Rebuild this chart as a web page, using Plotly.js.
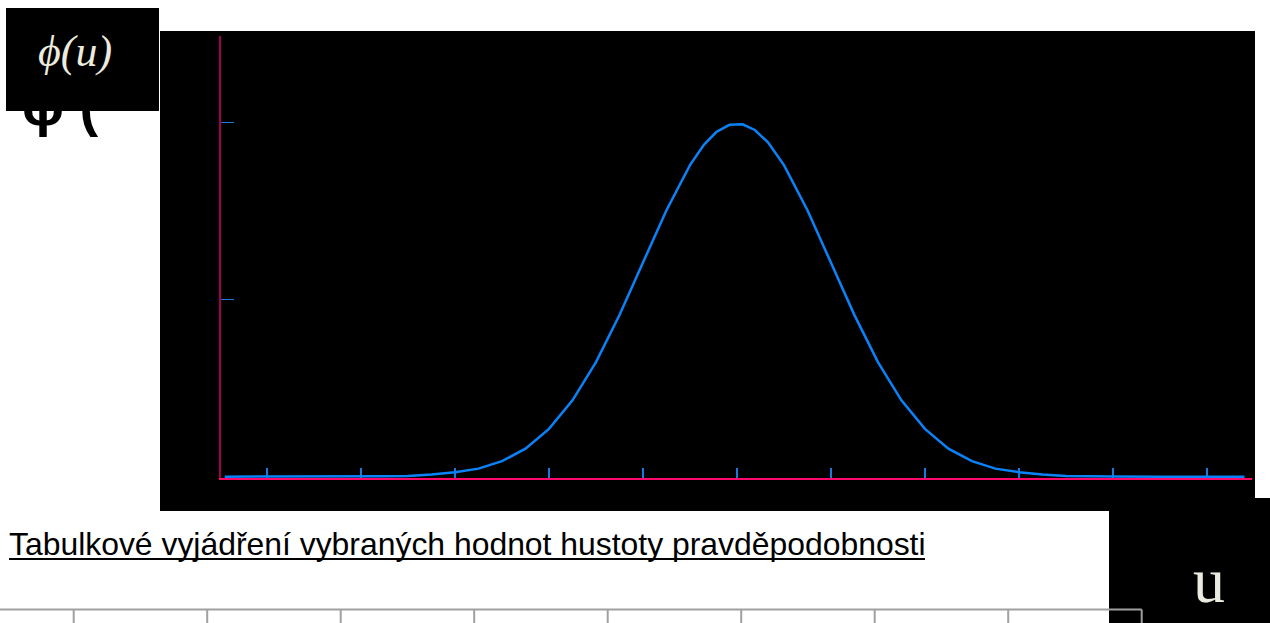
<!DOCTYPE html>
<html>
<head>
<meta charset="utf-8">
<script src="https://cdn.plot.ly/plotly-3.0.1.min.js"></script>
<style>html,body{margin:0;padding:0;background:#fff;}#chart{width:1270px;height:623px;}</style>
</head>
<body>
<div id="chart"></div>
<script>
// Data: standard normal density phi(u)
const u = [-5.45, -5, -4.5, -4, -3.75, -3.5, -3.25, -3, -2.75, -2.5, -2.25, -2, -1.75, -1.5, -1.25, -1, -0.75, -0.5, -0.35, -0.22, -0.08, 0.06, 0.19, 0.33, 0.5, 0.75, 1, 1.25, 1.5, 1.75, 2, 2.25, 2.5, 2.75, 3, 3.25, 3.5, 3.75, 4, 4.5, 5, 5.4];
const phi = [0, 0, 0, 0.0001, 0.0004, 0.0009, 0.0025, 0.0050, 0.0091, 0.0175, 0.0317, 0.0540, 0.0863, 0.1295, 0.1826, 0.2420, 0.3011, 0.3521, 0.3752, 0.3895, 0.3976, 0.3982, 0.3918, 0.3778, 0.3521, 0.3011, 0.2420, 0.1826, 0.1295, 0.0863, 0.0540, 0.0317, 0.0175, 0.0091, 0.0050, 0.0025, 0.0009, 0.0004, 0.0001, 0, 0, 0];
const xTicks = [-5, -4, -3, -2, -1, 0, 1, 2, 3, 4, 5];
const yTicks = [0.2, 0.4];
const yLabel = 'ϕ(u)';
const yLabelBehind = 'ϕ (';
const xLabel = 'u';
const caption = 'Tabulkové vyjádření vybraných hodnot hustoty pravděpodobnosti';

// plot area in pixels
const L = 221, R = 1252, T = 36, B = 478, W = 1270, H = 623;
const px = p => (p - L) / (R - L);
const py = p => (B - p) / (B - T);

const shapes = [];
function rect(x0, y0, x1, y1, color) {
  shapes.push({type: 'rect', xref: 'paper', yref: 'paper', x0: px(x0), x1: px(x1), y0: py(y1), y1: py(y0),
    fillcolor: color, line: {width: 0}, layer: 'below'});
}
function line(x0, y0, x1, y1, color, w) {
  shapes.push({type: 'line', xref: 'paper', yref: 'paper', x0: px(x0), x1: px(x1), y0: py(y0), y1: py(y1),
    line: {color: color, width: w}, layer: 'above'});
}
rect(160, 31, 1255, 511, '#000');
rect(1109, 498, 1270, 623, '#000');
// underline of caption
line(9, 559, 925, 559, '#000', 2);
// table grid
line(0, 609.5, 1141.7, 609.5, '#a0a0a0', 2);
for (let k = 0; k < 9; k++) {
  const x = 73.7 + 133.5 * k;
  line(x, 609.5, x, 625, '#a0a0a0', 2);
}

const annotations = [
  {text: yLabelBehind, xref: 'paper', yref: 'paper', x: px(20), y: py(139), xanchor: 'left', yanchor: 'bottom',
   showarrow: false, font: {family: 'Liberation Sans, Arial, sans-serif', size: 56, color: '#000', weight: 600}},
  {text: '\u00a0', xref: 'paper', yref: 'paper', x: px(6), y: py(8), xanchor: 'left', yanchor: 'top',
   width: 153, height: 103, bgcolor: '#000', borderpad: 0, borderwidth: 0, showarrow: false,
   font: {size: 10, color: '#000'}},
  {text: '<i>' + yLabel + '</i>', xref: 'paper', yref: 'paper', x: px(75), y: py(52), xanchor: 'center', yanchor: 'middle',
   showarrow: false, font: {family: 'Liberation Serif, Times New Roman, serif', size: 44, color: '#ecebdf'}},
  {text: xLabel, xref: 'paper', yref: 'paper', x: px(1209), y: py(580), xanchor: 'center', yanchor: 'middle',
   showarrow: false, font: {family: 'Liberation Serif, Times New Roman, serif', size: 64, color: '#ecebdf'}},
  {text: caption, xref: 'paper', yref: 'paper', x: px(7), y: py(544), xanchor: 'left', yanchor: 'middle',
   showarrow: false, font: {family: 'Liberation Sans, Arial, sans-serif', size: 31.9, color: '#000'}}
];

const trace = {x: u, y: phi, type: 'scatter', mode: 'lines', line: {color: '#0a82f8', width: 2.5}, hoverinfo: 'skip'};

const layout = {
  width: W, height: H,
  margin: {l: L, r: W - R, t: T, b: H - B, pad: 0},
  paper_bgcolor: '#fff', plot_bgcolor: '#000',
  showlegend: false,
  xaxis: {range: [-5.49, 5.48], showgrid: false, zeroline: false, showline: true, linecolor: '#ff0a6c', linewidth: 1.5,
    tickmode: 'array', tickvals: xTicks, ticks: 'inside', ticklen: 10, tickwidth: 1.5, tickcolor: '#1a78e0',
    showticklabels: false, layer: 'below traces', fixedrange: true},
  yaxis: {range: [-0.0015, 0.498], showgrid: false, zeroline: false, showline: true, linecolor: '#a3004f', linewidth: 2,
    tickmode: 'array', tickvals: yTicks, ticks: 'inside', ticklen: 13, tickwidth: 1.5, tickcolor: '#1a78e0',
    showticklabels: false, layer: 'below traces', fixedrange: true},
  shapes: shapes,
  annotations: annotations
};

Plotly.newPlot('chart', [trace], layout, {displayModeBar: false, staticPlot: true});
</script>
</body>
</html>
